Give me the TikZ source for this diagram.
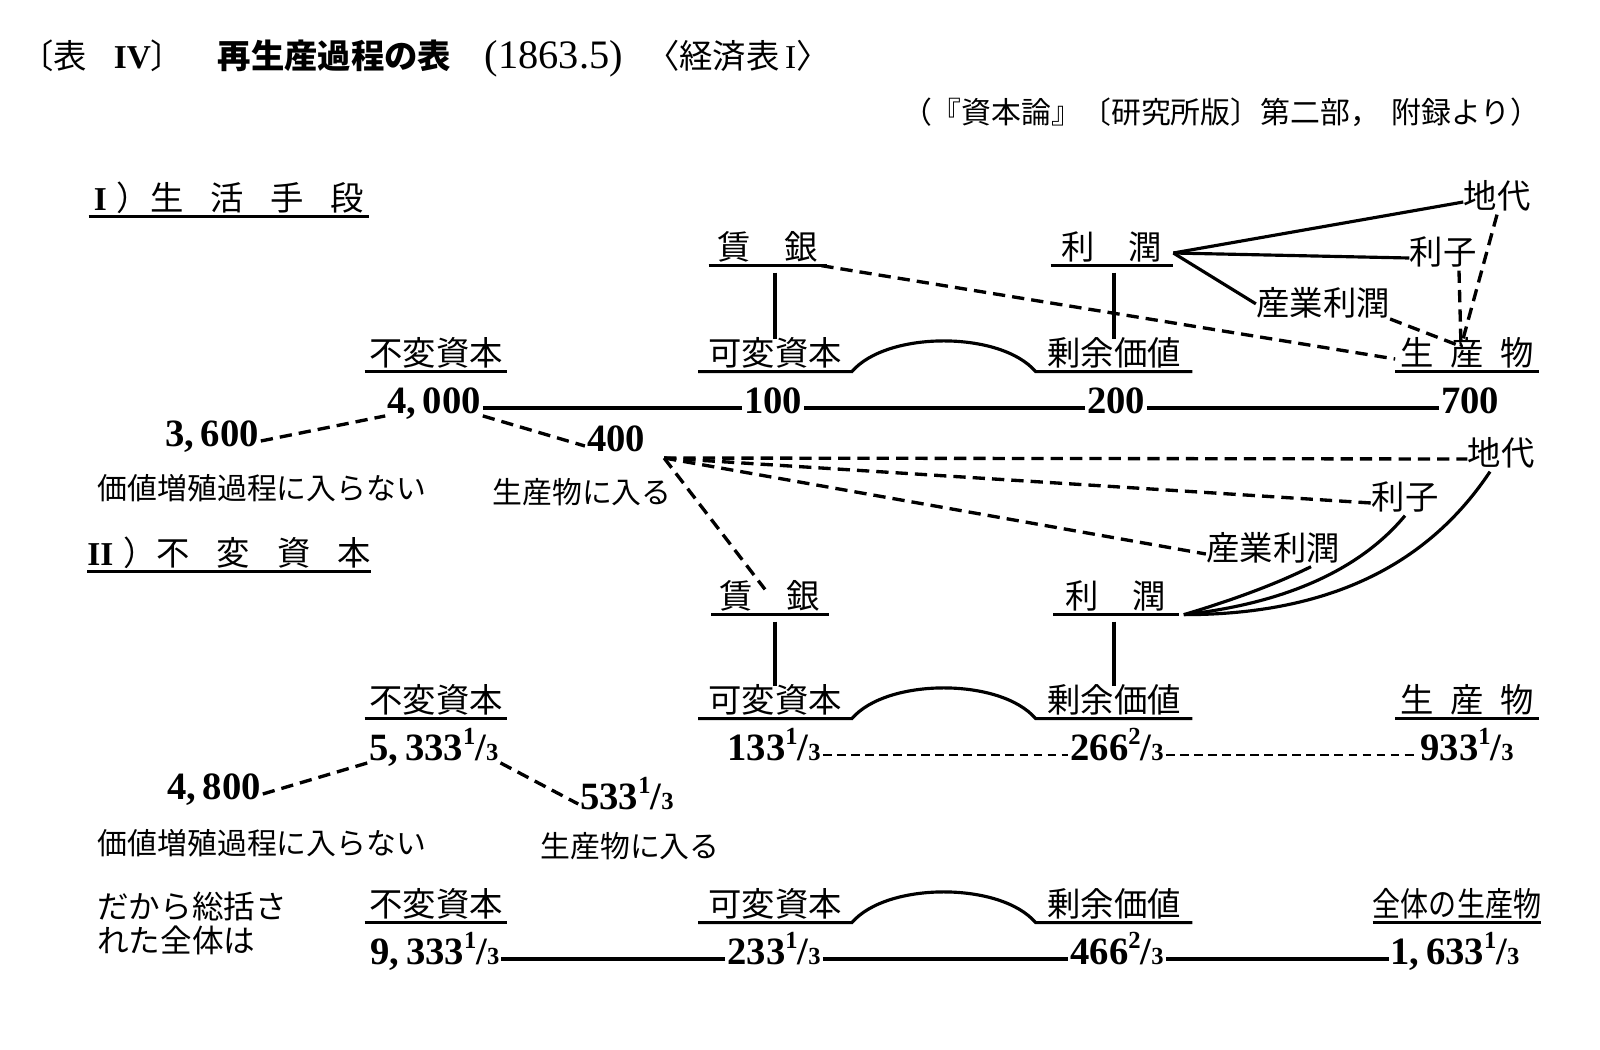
\documentclass[tikz,border=0pt]{standalone}
\usepackage{fontspec}
\usepackage{graphicx}
\setmainfont{Liberation Serif}
\newfontfamily\jp{Noto Sans CJK JP}
\usetikzlibrary{positioning,calc}

% fraction like 1/3 in the number rows
\newcommand\fracn[2]{\raisebox{.42em}{\fontsize{14}{14}\selectfont #1}/{\fontsize{14}{14}\selectfont #2}}

\begin{document}
\begin{tikzpicture}[
    x=0.02cm, y=-0.02cm,
    lbl/.style={font=\jp\fontsize{19}{22}\selectfont, text height=0.85em, text depth=0.15em, inner xsep=0pt, inner ysep=2pt},
    note/.style={font=\jp\fontsize{17}{20}\selectfont, inner sep=1pt},
    num/.style={font=\bfseries\fontsize{22}{24}\selectfont, text height=0.66em, text depth=0pt, inner sep=1pt},
    uline/.style={line width=1.8pt},
    link/.style={line width=1.8pt},
    dlink/.style={line width=1.9pt, dash pattern=on 7pt off 4pt},
    flink/.style={line width=1.3pt, dash pattern=on 5pt off 3pt}
]
\useasboundingbox (0,0) rectangle (1600,1049);

% Title
\node[anchor=west, font=\jp\fontsize{19}{22}\selectfont, inner sep=0pt] (title) at (20,58) {〔表\hspace{.8em}{\rmfamily\bfseries IV}〕\hspace{1em}{\bfseries 再生産過程の表}\hspace{1em}{\rmfamily\fontsize{23}{23}\selectfont (1863.5)}\hspace{.7em}〈経済表\,{\rmfamily I}〉};
\node[anchor=east, font=\jp\fontsize{17}{20}\selectfont, inner sep=0pt] (src) at (1541,112) {（『資本論』〔研究所版〕第二部，\hspace{.4em}附録より）};

% I) means of subsistence
\node[lbl, minimum width=5.6cm] (secI) at (229,204) {{\rmfamily\bfseries I}\hspace{.3em}）生\hspace{.8em}活\hspace{.8em}手\hspace{.8em}段};
\node[lbl, minimum width=2.36cm] (kw1) at (768,253) {賃\hspace{1em}銀};
\node[lbl, minimum width=2.44cm] (pr1) at (1112,253) {利\hspace{1em}潤};
\node[lbl] (rent1) at (1497,202) {地代};
\node[lbl] (int1) at (1443,258) {利子};
\node[lbl] (ip1) at (1323,309) {産業利潤};

\node[lbl, minimum width=2.84cm] (cc1) at (436,359) {不変資本};
\node[lbl, minimum width=3.06cm] (vc1) at (775,359) {可変資本};
\node[lbl, minimum width=3.12cm] (sv1) at (1114,359) {剰余価値};
\node[lbl, minimum width=2.86cm] (pd1) at (1467,359) {生\hspace{.5em}産\hspace{.5em}物};

\node[num] (n4000) at (434,408) {4,\,000};
\node[num] (n100) at (773,408) {100};
\node[num] (n200) at (1116,408) {200};
\node[num] (n700) at (1470,408) {700};
\node[num] (n3600) at (212,441) {3,\,600};
\node[num] (n400) at (616,446) {400};
\node[note] (nv1) at (262,488) {価値増殖過程に入らない};
\node[note] (ne1) at (582,492) {生産物に入る};

% II) constant capital
\node[lbl, minimum width=5.6cm] (secII) at (229,559) {{\rmfamily\bfseries II}\hspace{.3em}）不\hspace{.8em}変\hspace{.8em}資\hspace{.8em}本};
\node[lbl] (rent2) at (1501,459) {地代};
\node[lbl] (int2) at (1405,503) {利子};
\node[lbl] (ip2) at (1273,554) {産業利潤};
\node[lbl, minimum width=2.34cm] (kw2) at (770,602) {賃\hspace{1em}銀};
\node[lbl, minimum width=2.5cm] (pr2) at (1116,602) {利\hspace{1em}潤};

\node[lbl, minimum width=2.84cm] (cc2) at (436,706) {不変資本};
\node[lbl, minimum width=3.06cm] (vc2) at (775,706) {可変資本};
\node[lbl, minimum width=3.12cm] (sv2) at (1114,706) {剰余価値};
\node[lbl, minimum width=2.86cm] (pd2) at (1467,706) {生\hspace{.5em}産\hspace{.5em}物};

\node[num] (n5333) at (434,755) {5,\,333\fracn13};
\node[num] (n133) at (774,755) {133\fracn13};
\node[num] (n266) at (1117,755) {266\fracn23};
\node[num] (n933) at (1467,755) {933\fracn13};
\node[num] (n4800) at (214,794) {4,\,800};
\node[num] (n533) at (627,804) {533\fracn13};
\node[note] (nv2) at (262,843) {価値増殖過程に入らない};
\node[note] (ne2) at (630,846) {生産物に入る};

% summed whole
\node[anchor=north west, align=left, font=\jp\fontsize{18}{19}\selectfont, inner sep=0pt] (sum) at (97,892) {だから総括さ\\れた全体は};
\node[lbl, minimum width=2.84cm] (cc3) at (436,910) {不変資本};
\node[lbl, minimum width=3.06cm] (vc3) at (775,910) {可変資本};
\node[lbl, minimum width=3.12cm] (sv3) at (1114,910) {剰余価値};
\node[lbl, minimum width=3.26cm] (tp3) at (1457,910) {\scalebox{0.84}[1]{全体の生産物}};

\node[num] (n9333) at (435,959) {9,\,333\fracn13};
\node[num] (n233) at (774,959) {233\fracn13};
\node[num] (n466) at (1117,959) {466\fracn23};
\node[num] (n1633) at (1455,959) {1,\,633\fracn13};

% underlines
\foreach \n in {secI,secII,kw1,pr1,cc1,pd1,kw2,pr2,cc2,pd2,cc3,tp3}
  \draw[uline] (\n.south west) -- (\n.south east);
\foreach \i in {1,2,3}
  \draw[uline] (vc\i.south west) -- (vc\i.south east) .. controls +(35,-41) and +(-35,-41) .. (sv\i.south west) -- (sv\i.south east);

% I connectors
\draw[link, shorten <=4pt, shorten >=4pt] (kw1.south -| vc1.north) -- (vc1.north);
\draw[link, shorten <=4pt, shorten >=4pt] (pr1.south -| sv1.north) -- (sv1.north);
\draw[link] (pr1.east) -- (rent1.west);
\draw[link] (pr1.east) -- (int1.west);
\draw[link] (pr1.east) -- ([yshift=-0.15cm]ip1.north west);
\coordinate (pd1top) at ([xshift=-0.12cm]pd1.north);
\draw[dlink] (rent1.south) -- (pd1top);
\draw[dlink] ([xshift=0.32cm]int1.south) -- (pd1top);
\draw[dlink] ([yshift=-0.2cm]ip1.east) -- (pd1top);
\draw[dlink] ([xshift=-0.12cm]kw1.south east) -- (pd1.west);
\draw[link] (n4000.east) -- (n100.west);
\draw[link] (n100.east) -- (n200.west);
\draw[link] (n200.east) -- (n700.west);
\draw[dlink] (n3600.east) -- (n4000.south west);
\draw[dlink] (n4000.south east) -- (n400.west);

% II connectors
\coordinate (hub) at ([xshift=0.34cm, yshift=-0.24cm]n400.east);
\draw[dlink] (hub) -- (rent2.west);
\draw[dlink] (hub) -- (int2.west);
\draw[dlink] (hub) -- (ip2.west);
\draw[dlink] (hub) -- ([xshift=-0.1cm]kw2.north);
\coordinate (pr2r) at ([xshift=0.1cm]pr2.south east);
\draw[link] (pr2r) .. controls +(40,-12) and +(-40,20) .. ([xshift=0.76cm]ip2.south);
\draw[link] (pr2r) .. controls +(90,-10) and +(-50,60) .. (int2.south);
\draw[link] (pr2r) .. controls +(150,0) and +(-60,90) .. ([xshift=-0.22cm]rent2.south);
\draw[link, shorten <=4pt, shorten >=4pt] (kw2.south -| vc2.north) -- (vc2.north);
\draw[link, shorten <=4pt, shorten >=4pt] (pr2.south -| sv2.north) -- (sv2.north);
\draw[flink] (n133.east) -- (n266.west);
\draw[flink] (n266.east) -- (n933.west);
\draw[dlink] (n4800.east) -- (n5333.south west);
\draw[dlink] (n5333.south east) -- (n533.west);

% bottom totals
\draw[link] (n9333.east) -- (n233.west);
\draw[link] (n233.east) -- (n466.west);
\draw[link] (n466.east) -- (n1633.west);

\end{tikzpicture}
\end{document}
